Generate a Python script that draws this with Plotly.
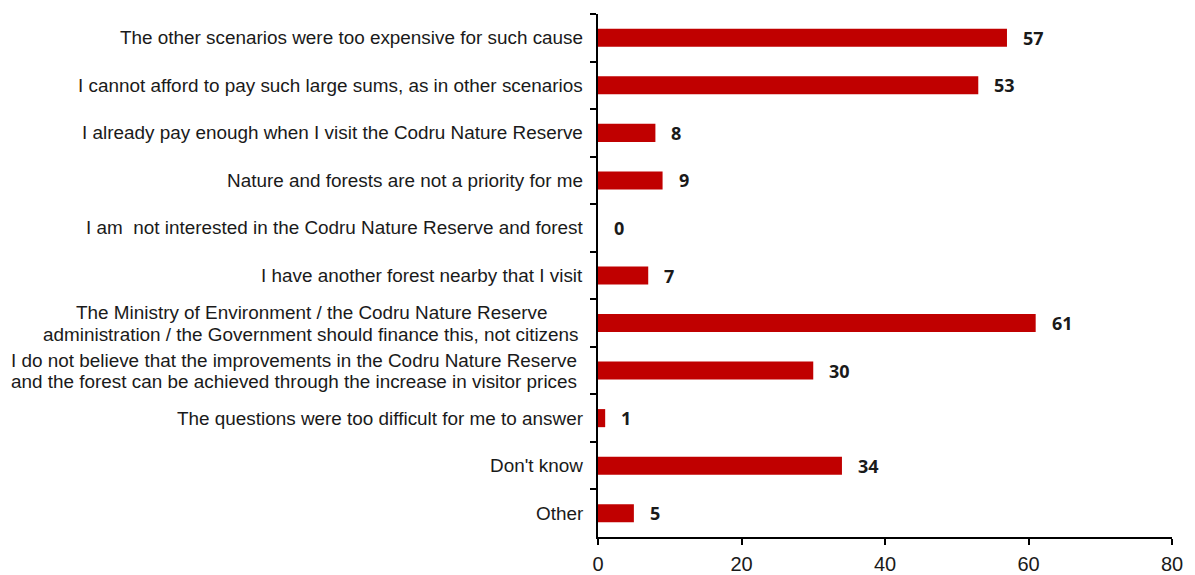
import plotly.graph_objects as go

categories = [
    "The other scenarios were too expensive for such cause",
    "I cannot afford to pay such large sums, as in other scenarios",
    "I already pay enough when I visit the Codru Nature Reserve",
    "Nature and forests are not a priority for me",
    "I am  not interested in the Codru Nature Reserve and forest",
    "I have another forest nearby that I visit",
    "The Ministry of Environment / the Codru Nature Reserve<br>administration / the Government should finance this, not citizens",
    "I do not believe that the improvements in the Codru Nature Reserve<br>and the forest can be achieved through the increase in visitor prices",
    "The questions were too difficult for me to answer",
    "Don't know",
    "Other",
]
values = [57, 53, 8, 9, 0, 7, 61, 30, 1, 34, 5]
x_ticks = [0, 20, 40, 60, 80]

ids = [f"c{i}" for i in range(len(categories))]

LABEL_FONT = dict(family="Liberation Sans, Arial", size=18.9, color="#1a1a1a")
# horizontal centre (px offset from the plot's left edge) for two-line labels
two_line_centre = {6: -287, 7: -304}

fig = go.Figure()
fig.add_trace(go.Bar(
    x=values, y=ids, orientation="h",
    marker=dict(color="#C00000", line=dict(width=0)),
    width=0.38, hoverinfo="skip",
))

annotations = []
for i, (cid, cat, v) in enumerate(zip(ids, categories, values)):
    lines = cat.split("<br>")
    if len(lines) == 1:
        annotations.append(dict(
            x=0, xref="paper", y=cid, yref="y", text=cat, showarrow=False,
            xanchor="right", yanchor="middle", xshift=-13,
            font=LABEL_FONT,
        ))
    else:
        shifts = [10.5, -11]
        for line, ys in zip(lines, shifts):
            annotations.append(dict(
                x=0, xref="paper", y=cid, yref="y", text=line, showarrow=False,
                xanchor="center", yanchor="middle", xshift=two_line_centre[i],
                yshift=ys, font=LABEL_FONT,
            ))
    annotations.append(dict(
        x=v, xref="x", y=cid, yref="y", text=f"<b>{v}</b>", showarrow=False,
        xanchor="left", yanchor="middle", xshift=14,
        font=dict(family="Open Sans, Liberation Sans", size=18, color="#1a1a1a"),
    ))

fig.update_layout(
    width=1195, height=575,
    margin=dict(l=598, r=23, t=14, b=38, autoexpand=False),
    paper_bgcolor="white", plot_bgcolor="white",
    showlegend=False,
    annotations=annotations,
    xaxis=dict(
        range=[0, 80], tickvals=x_ticks, ticktext=[str(t) for t in x_ticks],
        showgrid=False, zeroline=False, showline=True, linecolor="black", linewidth=1.5,
        ticks="outside", ticklen=6, tickwidth=1.5, tickcolor="black",
        ticklabelstandoff=2, automargin=False,
        tickfont=dict(family="Liberation Sans, Arial", size=20, color="#1a1a1a"),
        fixedrange=True,
    ),
    yaxis=dict(
        categoryorder="array", categoryarray=ids, autorange="reversed",
        showticklabels=False, showgrid=False, zeroline=False,
        showline=True, linecolor="black", linewidth=1.5,
        ticks="outside", ticklen=6, tickwidth=1.5, tickcolor="black",
        tickson="boundaries", fixedrange=True, automargin=False,
    ),
)

fig.write_html("out.html", config={"displayModeBar": False},
               post_script="document.body.style.margin='0';")
